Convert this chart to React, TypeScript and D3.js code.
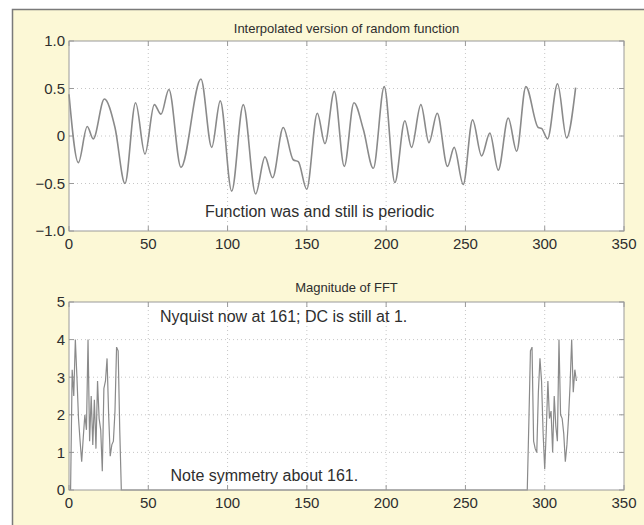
import React from "react";
import * as d3 from "d3";

// ---- Data ----
const xTicks = [0, 50, 100, 150, 200, 250, 300, 350];
const topYTicks = [-1, -0.5, 0, 0.5, 1];
const topYTickLabels = ["\u22121.0", "\u22120.5", "0", "0.5", "1.0"];
const botYTicks = [0, 1, 2, 3, 4, 5];

// Interpolated random function: sample positions and values (extrema)
const topX = [0, 5.9, 11.5, 15.3, 22.3, 29, 35.3, 42, 47.9, 53.8, 58, 63, 70.6, 83.2, 90, 95.4, 102.6, 109.9, 117.7, 123.6, 128.4, 135.1, 141.4, 144.6, 149.9, 156.6, 161.4, 167.3, 173.6, 179.7, 185.6, 191.9, 198.8, 205.5, 211.8, 216, 221.9, 227, 232.2, 238.7, 242.9, 248.6, 254.5, 260.2, 265.4, 270.7, 277, 282.3, 288.1, 295.9, 298, 301.8, 308.1, 313.8, 319.5];
const topY = [0.44, -0.28, 0.1, -0.03, 0.39, 0.09, -0.5, 0.35, -0.19, 0.33, 0.23, 0.49, -0.33, 0.6, -0.12, 0.37, -0.58, 0.33, -0.61, -0.22, -0.44, 0.09, -0.25, -0.27, -0.56, 0.24, -0.08, 0.47, -0.32, 0.35, 0.07, -0.34, 0.52, -0.49, 0.16, -0.12, 0.33, -0.07, 0.24, -0.32, -0.12, -0.51, 0.17, -0.21, 0.03, -0.36, 0.19, -0.16, 0.52, 0.09, 0.08, -0.03, 0.55, -0.02, 0.51];

// FFT magnitude: indices 1..33 (low band), 34..288 zero, 289..320 (high band)
const fftLow = [0, 3.2, 2.5, 4.0, 3.0, 1.9, 1.3, 0.75, 1.4, 2.0, 1.6, 4.0, 1.3, 2.5, 1.2, 2.4, 1.1, 2.9, 1.9, 1.6, 0.5, 2.7, 2.9, 3.5, 2.0, 0.9, 1.2, 1.3, 2.1, 3.8, 3.7, 1.6, 0];
const fftMid = new Array(255).fill(0);
const fftHigh = [0, 1.8, 3.7, 3.8, 1.3, 1.1, 1.0, 2.6, 3.5, 2.9, 1.5, 0.55, 1.6, 2.9, 1.9, 2.1, 1.0, 2.5, 1.7, 1.3, 4.0, 2.0, 1.9, 1.5, 0.75, 1.2, 1.9, 2.8, 4.0, 2.6, 3.2, 2.9];

const topTitle = "Interpolated version of random function";
const botTitle = "Magnitude of FFT";

const FONT = "'Liberation Sans', Arial, Helvetica, sans-serif";
const BG = "#fcf8d6";
const BOX = "#9a9a9a";
const GRID = "#b8b8b8";
const LINE = "#8a8a8a";
const TEXT = "#2e2e2e";

function Axes({ y, yTicks, yLabels, x, top, bottom }: any) {
  const [xl, xr] = x.range();
  const tickLen = 5;
  return (
    <g>
      <rect x={xl} y={top} width={xr - xl} height={bottom - top} fill="#ffffff" />
      {xTicks.slice(1, -1).map((t) => (
        <line key={"gx" + t} x1={x(t)} x2={x(t)} y1={top} y2={bottom} stroke={GRID} strokeWidth={0.8} strokeDasharray="1,3" />
      ))}
      {yTicks.slice(1, -1).map((t: number) => (
        <line key={"gy" + t} x1={xl} x2={xr} y1={y(t)} y2={y(t)} stroke={GRID} strokeWidth={0.8} strokeDasharray="1,3" />
      ))}
      {xTicks.map((t) => (
        <g key={"tx" + t}>
          <line x1={x(t)} x2={x(t)} y1={bottom} y2={bottom - tickLen} stroke={BOX} />
          <line x1={x(t)} x2={x(t)} y1={top} y2={top + tickLen} stroke={BOX} />
          <text x={x(t)} y={bottom + 18} textAnchor="middle" fontSize={15} fill={TEXT} fontFamily={FONT}>{t}</text>
        </g>
      ))}
      {yTicks.map((t: number, i: number) => (
        <g key={"ty" + t}>
          <line x1={xl} x2={xl + tickLen} y1={y(t)} y2={y(t)} stroke={BOX} />
          <line x1={xr} x2={xr - tickLen} y1={y(t)} y2={y(t)} stroke={BOX} />
          <text x={xl - 4} y={y(t)} dy="0.36em" textAnchor="end" fontSize={15} fill={TEXT} fontFamily={FONT}>{yLabels[i]}</text>
        </g>
      ))}
    </g>
  );
}

export default function App() {
  const x = d3.scaleLinear().domain([0, 350]).range([69, 624]);
  const yTop = d3.scaleLinear().domain([-1, 1]).range([231, 41]);
  const yBot = d3.scaleLinear().domain([0, 5]).range([490, 302]);

  const topData = topX.map((v, i) => [v, topY[i]] as [number, number]);
  const topLine = d3
    .line<[number, number]>()
    .x((d) => x(d[0]))
    .y((d) => yTop(d[1]))
    .curve(d3.curveMonotoneX)(topData);

  const fftAll = fftLow.concat(fftMid, fftHigh);
  const botData = fftAll.map((v, i) => [i + 1, v] as [number, number]);
  const botLine = d3
    .line<[number, number]>()
    .x((d) => x(d[0]))
    .y((d) => yBot(d[1]))(botData);

  return (
    <svg width={644} height={525} style={{ position: "absolute", left: 0, top: 0 }}>
      <rect x={0} y={0} width={644} height={525} fill="#ffffff" />
      <rect x={12.5} y={9.5} width={660} height={540} fill={BG} stroke="#7a7a7a" strokeWidth={1.5} />

      <Axes y={yTop} yTicks={topYTicks} yLabels={topYTickLabels} x={x} top={41} bottom={231} />
      <path d={topLine || ""} fill="none" stroke={LINE} strokeWidth={1.6} />
      <rect x={69} y={41} width={555} height={190} fill="none" stroke={BOX} strokeWidth={1} />
      <text x={x(175)} y={33} textAnchor="middle" fontSize={13} fill={TEXT} fontFamily={FONT}>{topTitle}</text>
      <text x={x(85.7)} y={yTop(-0.85)} fontSize={16} fill={TEXT} fontFamily={FONT}>Function was and still is periodic</text>

      <Axes y={yBot} yTicks={botYTicks} yLabels={botYTicks.map(String)} x={x} top={302} bottom={490} />
      <path d={botLine || ""} fill="none" stroke={LINE} strokeWidth={1.2} />
      <rect x={69} y={302} width={555} height={188} fill="none" stroke={BOX} strokeWidth={1} />
      <text x={x(175)} y={292} textAnchor="middle" fontSize={13} fill={TEXT} fontFamily={FONT}>{botTitle}</text>
      <text x={x(57.4)} y={yBot(4.46)} fontSize={16} fill={TEXT} fontFamily={FONT}>Nyquist now at 161; DC is still at 1.</text>
      <text x={x(64)} y={yBot(0.25)} fontSize={16} fill={TEXT} fontFamily={FONT}>Note symmetry about 161.</text>
    </svg>
  );
}
